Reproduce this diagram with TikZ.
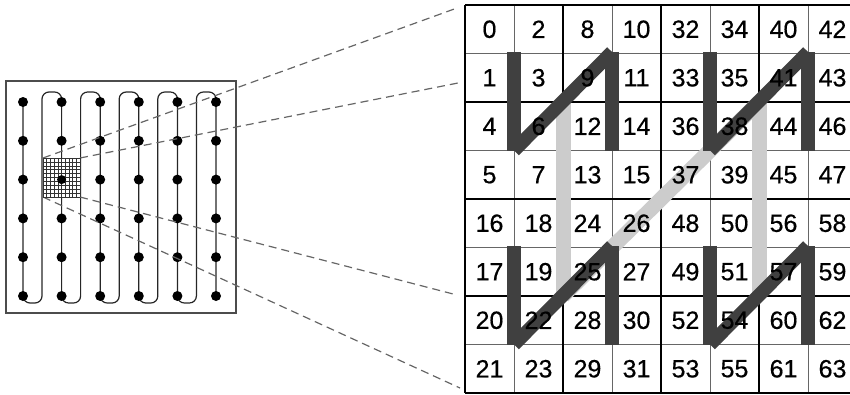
\documentclass[tikz,border=0pt]{standalone}
\usepackage{fontspec}
\setmainfont{Liberation Sans}
\newfontfamily\numfont[FakeBold=0.5]{Liberation Sans}
\begin{document}
\begin{tikzpicture}[x=1pt,y=-1pt,
  thinline/.style={draw=black!60,line width=1pt},
  thickline/.style={draw=black,line width=2.8pt},
  darkbar/.style={draw=black!75,line width=13.5pt,line cap=butt},
  lightbar/.style={draw=black!20,line width=15pt,line cap=butt},
  num/.style={font=\numfont\fontsize{25}{25}\selectfont,inner sep=0pt,anchor=center},
  snake/.style={draw=black!85,line width=1.2pt,rounded corners=7pt},
  conn/.style={draw=black!60,dash pattern=on 8pt off 5pt,line width=1.2pt},
  outerbox/.style={draw=black!70,line width=1.2pt},
  finegrid/.style={draw=black!80,line width=0.5pt}]
\useasboundingbox (0,0) rectangle (850,394);
% left panel
\draw[outerbox] (6,81) rectangle (236,313);
\draw[snake] (23,102) foreach \i in {0,...,4} { -- ({23+38.6*\i},303) -- ({42+38.6*\i},303) -- ({42+38.6*\i},92) -- ({61.6+38.6*\i},92) } -- (216,296);
\foreach \i in {0,...,5} \foreach \j in {0,...,5} \fill ({23+38.6*\i},{102+38.8*\j}) circle (5);
% connectors
\coordinate (g1) at (43,158);
\coordinate (g2) at (80,158);
\coordinate (g3) at (80,197);
\coordinate (g4) at (43,197);
\coordinate (t1) at (457,8);
\coordinate (t2) at (458,83);
\coordinate (t3) at (457,295);
\coordinate (t4) at (460,388);
\draw[conn] (g1) -- (t1);
\draw[conn] (g2) -- (t2);
\draw[conn] (g3) -- (t3);
\draw[conn] (g4) -- (t4);
% fine grid
\fill[white] (43,158) rectangle (80,197);
\foreach \k in {0,...,10} {
  \draw[finegrid] ({43+3.7*\k},158) -- ({43+3.7*\k},197);
  \draw[finegrid] (43,{158+3.9*\k}) -- (80,{158+3.9*\k});
}
\fill (61.6,179.6) circle (4.5);
% table lines
\foreach \k in {1,3,5,7} {
  \draw[thinline] ({465+49*\k},5) -- ({465+49*\k},393);
  \draw[thinline] (465,{5+48.5*\k}) -- (857,{5+48.5*\k});
}
\foreach \k in {0,2,4,6,8} {
  \draw[thickline] ({465+49*\k},5) -- ({465+49*\k},393);
  \draw[thickline] (465,{5+48.5*\k}) -- (857,{5+48.5*\k});
}
% light bars
\draw[lightbar] (563,102) -- (563,296);
\draw[lightbar] (563,296) -- (759,102);
\draw[lightbar] (759,102) -- (759,296);
% dark bars
\foreach \dx/\dy in {0/0,196/0,0/194,196/194} {
  \draw[darkbar] ({514+\dx},{52+\dy}) -- ({514+\dx},{150.5+\dy});
  \draw[darkbar] ({514+\dx},{150.5+\dy}) -- ({612+\dx},{52+\dy});
  \draw[darkbar] ({612+\dx},{52+\dy}) -- ({612+\dx},{150.5+\dy});
}
% numbers
\foreach \row [count=\r from 0] in {{0,2,8,10,32,34,40,42},{1,3,9,11,33,35,41,43},{4,6,12,14,36,38,44,46},{5,7,13,15,37,39,45,47},{16,18,24,26,48,50,56,58},{17,19,25,27,49,51,57,59},{20,22,28,30,52,54,60,62},{21,23,29,31,53,55,61,63}} {
  \foreach \v [count=\c from 0] in \row {
    \node[num] (n\v) at ({465+49*(\c+0.5)},{5+48.5*(\r+0.5)}) {\v};
  }
}
\end{tikzpicture}
\end{document}
